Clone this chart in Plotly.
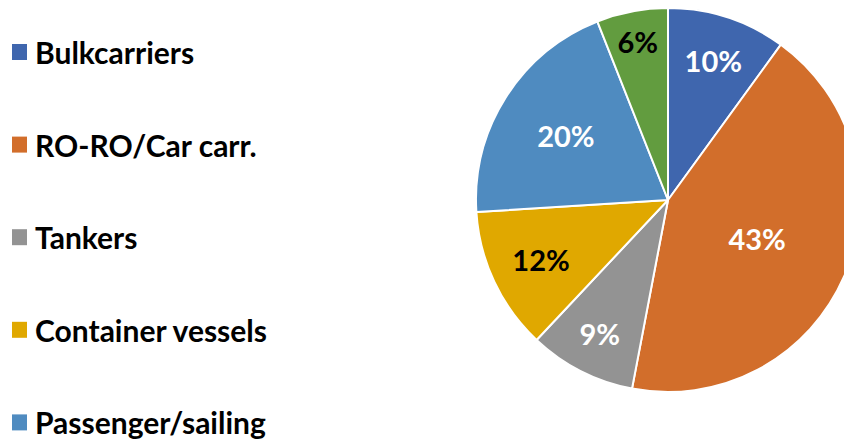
import plotly.graph_objects as go

# ---- data ----
labels = ["Bulkcarriers", "RO-RO/Car carr.", "Tankers", "Container vessels",
          "Passenger/sailing", "Others"]
shares = [10, 43, 9, 12, 20, 6]
colors = ["#3F66AE", "#D26E2B", "#939393", "#E0A800", "#4F8BC0", "#629C3F"]
text_colors = ["white", "white", "white", "black", "white", "black"]

# figure is a bit wider than the 844px window: the pie runs off the right edge,
# as in the reference
W, H = 862, 440
FONT = "Lato"

fig = go.Figure()
fig.add_trace(go.Pie(
    labels=labels,
    values=shares,
    sort=False,
    direction="clockwise",
    rotation=0,
    marker=dict(colors=colors, line=dict(color="white", width=2)),
    texttemplate="%{percent:.0%}",
    textposition="inside",
    insidetextorientation="horizontal",
    textfont=dict(family=FONT, size=29, color=text_colors, weight="bold"),
    showlegend=False,
    domain=dict(x=[476 / W, 860 / W], y=[1 - 392 / H, 1 - 8 / H]),
    hoverinfo="label+percent",
))

# legend drawn as text + square markers
shapes, annotations = [], []
for i, (lab, col) in enumerate(zip(labels, colors)):
    ypx = 52 + i * 92.6
    if ypx > H:
        continue
    yp = 1 - ypx / H
    shapes.append(dict(type="rect", xref="paper", yref="paper",
                       xsizemode="pixel", ysizemode="pixel",
                       xanchor=19.5 / W, yanchor=yp,
                       x0=-7.5, x1=7.5, y0=-8, y1=8,
                       fillcolor=col, line=dict(width=0)))
    annotations.append(dict(text=lab, xref="paper", yref="paper",
                            x=33 / W, y=yp, xanchor="left", yanchor="middle",
                            showarrow=False,
                            font=dict(family=FONT, size=30, color="black",
                                      weight="bold")))

fig.update_layout(
    width=W, height=H,
    margin=dict(l=0, r=0, t=0, b=0),
    paper_bgcolor="white",
    plot_bgcolor="white",
    shapes=shapes,
    annotations=annotations,
)

fig.write_html(
    "out.html",
    config={"displayModeBar": False},
    post_script="document.body.style.margin='0';"
                "document.body.style.overflow='hidden';",
)
